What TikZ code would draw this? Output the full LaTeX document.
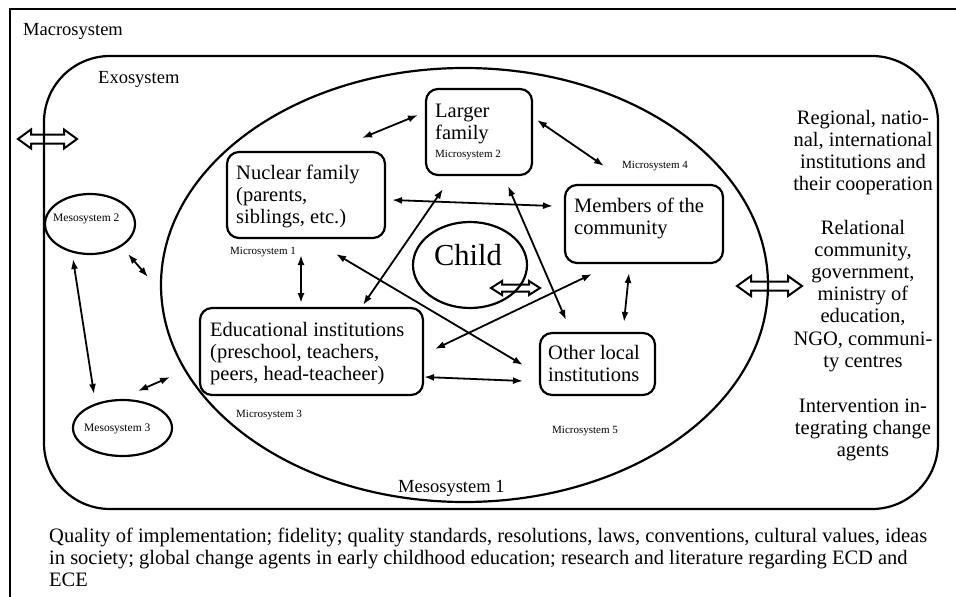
\documentclass[tikz,border=0pt]{standalone}
\usepackage{fontspec}
\setmainfont{Liberation Serif}
\usetikzlibrary{arrows.meta,shapes.geometric}
\newcommand{\bigtxt}{\fontsize{20.5}{22.2}\selectfont}
\newcommand{\OpenDbl}[6]{%
  \draw[openarr] (#1,#3) -- ({#1+#6},{#3-#4}) -- ({#1+#6},{#3-#5}) -- ({#2-#6},{#3-#5})
    -- ({#2-#6},{#3-#4}) -- (#2,#3) -- ({#2-#6},{#3+#4}) -- ({#2-#6},{#3+#5})
    -- ({#1+#6},{#3+#5}) -- ({#1+#6},{#3+#4}) -- cycle;}
\begin{document}
\begin{tikzpicture}[x=1pt,y=-1pt,
  frame/.style={line width=2.8pt},
  outline/.style={draw,line width=2.2pt},
  box/.style={draw,line width=2.2pt,rectangle,rounded corners=12pt,inner sep=0pt},
  oval/.style={draw,line width=2.2pt,ellipse,inner sep=0pt},
  txt/.style={font=\bigtxt,inner sep=0pt},
  small/.style={font=\fontsize{11}{13}\selectfont,inner sep=0pt},
  link/.style={line width=1.8pt,{Latex[length=10pt,width=7pt]}-{Latex[length=10pt,width=7pt]}},
  openarr/.style={line width=2pt,line join=miter}]
\useasboundingbox (0,0) rectangle (956,597);
% macrosystem frame
\draw[frame] (956,9) -- (10,9) -- (10,597);
% exosystem
\draw[outline,rounded corners=66pt] (44,56) rectangle (938,509);
\coordinate (exo) at (491,282);
% mesosystem 1
\node[oval,minimum width=607pt,minimum height=434pt] (meso1) at (464.5,285) {};
% child
\node[oval,minimum width=114pt,minimum height=86pt] (child) at (470,265) {};
% mesosystems 2 & 3
\node[oval,minimum width=90pt,minimum height=60pt] (meso2) at (90,224) {};
\node[oval,minimum width=99pt,minimum height=56pt] (meso3) at (122.5,428) {};
% boxes
\node[box,minimum width=158pt,minimum height=86pt] (nuc) at (306,195) {};
\node[box,minimum width=106pt,minimum height=86pt] (larger) at (479,132) {};
\node[box,minimum width=158pt,minimum height=78pt] (members) at (644,224) {};
\node[box,minimum width=115pt,minimum height=62pt] (other) at (597.5,364) {};
\node[box,minimum width=223pt,minimum height=87pt] (edu) at (311.5,351.5) {};
% box texts
\node[txt,anchor=base west] (nuct) at (236,179) {\begin{tabular}[t]{@{}l@{}}Nuclear family\\(parents,\\siblings, etc.)\end{tabular}};
\node[txt,anchor=base west] (largert) at (435,117) {\begin{tabular}[t]{@{}l@{}}Larger\\family\end{tabular}};
\node[small,anchor=base west] (mic2) at (435,157) {Microsystem 2};
\node[txt,anchor=base west] (memt) at (574,212) {\begin{tabular}[t]{@{}l@{}}Members of the\\community\end{tabular}};
\node[txt,anchor=base west] (othert) at (548,359) {\begin{tabular}[t]{@{}l@{}}Other local\\institutions\end{tabular}};
\node[txt,anchor=base west] (edut) at (210,336) {\begin{tabular}[t]{@{}l@{}}Educational institutions\\(preschool, teachers,\\peers, head-teacheer)\end{tabular}};
\node[font=\fontsize{30.5}{34}\selectfont,inner sep=0pt,anchor=base] (childt) at (468,265) {Child};
% system labels
\node[font=\fontsize{18.5}{21}\selectfont,inner sep=0pt,anchor=base west] (macrot) at (23,35) {Macrosystem};
\node[font=\fontsize{18.5}{21}\selectfont,inner sep=0pt,anchor=base west] (exot) at (98,83) {Exosystem};
\node[font=\fontsize{18.5}{21}\selectfont,inner sep=0pt,anchor=base west] (meso1t) at (398,492) {Mesosystem 1};
\node[small,anchor=base west] (mic1) at (230,254) {Microsystem 1};
\node[small,anchor=base west] (mic3) at (236,417) {Microsystem 3};
\node[small,anchor=base west] (mic4) at (622,168) {Microsystem 4};
\node[small,anchor=base west] (mic5) at (552,433) {Microsystem 5};
\node[small,font=\fontsize{11.5}{13}\selectfont,anchor=base west] (meso2t) at (53,221) {Mesosystem 2};
\node[small,font=\fontsize{11.5}{13}\selectfont,anchor=base west] (meso3t) at (84,431) {Mesosystem 3};
% right texts
\node[txt,anchor=base] (r1) at (863,124) {\begin{tabular}[t]{@{}c@{}}Regional, natio-\\nal, international\\institutions and\\their cooperation\end{tabular}};
\node[txt,anchor=base] (r2) at (863,234) {\begin{tabular}[t]{@{}c@{}}Relational\\community,\\government,\\ministry of\\education,\\NGO, communi-\\ty centres\end{tabular}};
\node[txt,anchor=base] (r3) at (863,412) {\begin{tabular}[t]{@{}c@{}}Intervention in-\\tegrating change\\agents\end{tabular}};
% bottom text
\node[txt,anchor=base west] (bottom) at (49,542) {\begin{tabular}[t]{@{}l@{}}Quality of implementation; fidelity; quality standards, resolutions, laws, conventions, cultural values, ideas\\in society; global change agents in early childhood education; research and literature regarding ECD and\\ECE\end{tabular}};
% open double arrows
\OpenDbl{18}{77}{139}{9.5}{4.5}{13}
\OpenDbl{491}{540}{288}{7}{3.5}{11}
\OpenDbl{737}{802}{286}{10}{4.5}{14}
% connector end points
\coordinate (a1s) at (362,138); \coordinate (a1e) at (418,115);
\coordinate (a2s) at (537,120); \coordinate (a2e) at (604,166);
\coordinate (a3s) at (392,200); \coordinate (a3e) at (553,206);
\coordinate (a4s) at (443,189); \coordinate (a4e) at (363,305);
\coordinate (a5s) at (508,186); \coordinate (a5e) at (566,320);
\coordinate (a6s) at (301,255); \coordinate (a6e) at (301,303);
\coordinate (a7s) at (336,254); \coordinate (a7e) at (523,365);
\coordinate (a8s) at (435,349); \coordinate (a8e) at (592,274);
\coordinate (a9s) at (629,273); \coordinate (a9e) at (624,322);
\coordinate (a10s) at (424,377); \coordinate (a10e) at (523,381);
\coordinate (a11s) at (73,259); \coordinate (a11e) at (94,394);
\coordinate (a12s) at (128,254); \coordinate (a12e) at (148,277);
\coordinate (a13s) at (138,391); \coordinate (a13e) at (170,377);
\foreach \i in {1,...,13} {\draw[link] (a\i s) -- (a\i e);}
\end{tikzpicture}
\end{document}
